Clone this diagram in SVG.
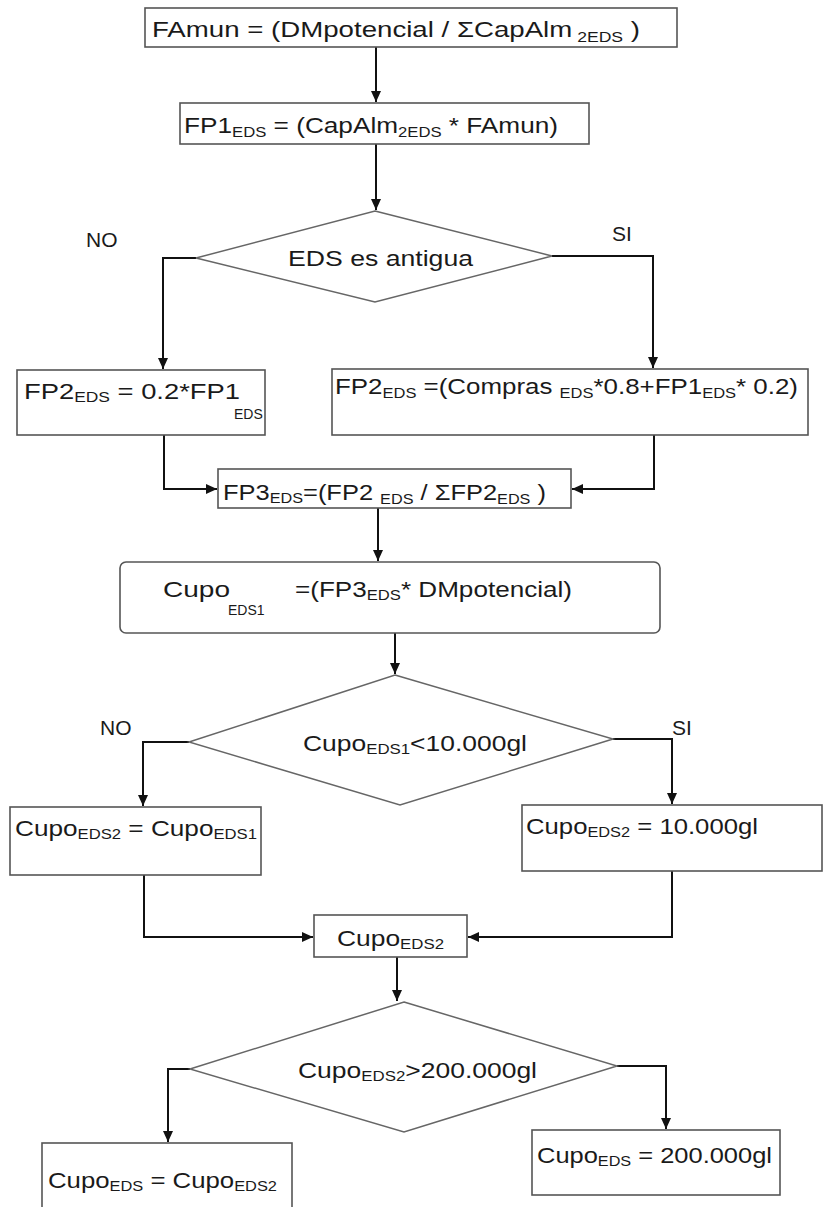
<svg xmlns="http://www.w3.org/2000/svg" width="823" height="1207" viewBox="0 0 823 1207">
<style>
.box{fill:#fff;stroke:#555;stroke-width:1.6}
.dia{fill:#fff;stroke:#666;stroke-width:1.5}
.t{font-family:"Liberation Sans",Arial,sans-serif;font-size:22px;fill:#1a1a1a}
.s{font-size:14px}
.lbl{font-family:"Liberation Sans",Arial,sans-serif;font-size:21px;fill:#1a1a1a}
.c{fill:none;stroke:#111;stroke-width:2}
</style>
<defs>
<marker id="ah" markerUnits="userSpaceOnUse" markerWidth="12" markerHeight="12" refX="11" refY="5" orient="auto">
<path d="M0,0 L11,5 L0,10 z" fill="#111"/>
</marker>
</defs>
<rect width="823" height="1207" fill="#fff"/>

<g id="connectors">
<path class="c" d="M376,47 V102" marker-end="url(#ah)"/>
<path class="c" d="M376,144 V210" marker-end="url(#ah)"/>
<path class="c" d="M196,258 H163 V369" marker-end="url(#ah)"/>
<path class="c" d="M552,256 H653 V368" marker-end="url(#ah)"/>
<path class="c" d="M164,435 V489 H217" marker-end="url(#ah)"/>
<path class="c" d="M654,435 V489 H572" marker-end="url(#ah)"/>
<path class="c" d="M378,508 V561" marker-end="url(#ah)"/>
<path class="c" d="M395,633 V674" marker-end="url(#ah)"/>
<path class="c" d="M189,742 H143 V806" marker-end="url(#ah)"/>
<path class="c" d="M613,739 H672 V804" marker-end="url(#ah)"/>
<path class="c" d="M144,875 V937 H313" marker-end="url(#ah)"/>
<path class="c" d="M672,871 V937 H468" marker-end="url(#ah)"/>
<path class="c" d="M397,957 V1001" marker-end="url(#ah)"/>
<path class="c" d="M190,1069 H168 V1142" marker-end="url(#ah)"/>
<path class="c" d="M617,1066 H666 V1129" marker-end="url(#ah)"/>
</g>

<g id="famun">
<rect class="box" x="145" y="8" width="532" height="39"/>
<text class="t" x="152" y="37" textLength="488" lengthAdjust="spacingAndGlyphs">FAmun = (DMpotencial / ΣCapAlm<tspan class="s" dy="5"> 2EDS</tspan><tspan dy="-5"> )</tspan></text>
</g>

<g id="fp1">
<rect class="box" x="180" y="103" width="409" height="41"/>
<text class="t" x="184" y="133" textLength="374" lengthAdjust="spacingAndGlyphs">FP1<tspan class="s" dy="4">EDS</tspan><tspan dy="-4"> = (CapAlm</tspan><tspan class="s" dy="4">2EDS</tspan><tspan dy="-4"> * FAmun)</tspan></text>
</g>

<g id="dec1">
<polygon class="dia" points="375,211 552,256 375,302 196,258"/>
<text class="t" x="288" y="266" textLength="185" lengthAdjust="spacingAndGlyphs">EDS es antigua</text>
<text class="lbl" x="86" y="247">NO</text>
<text class="lbl" x="612" y="241">SI</text>
</g>

<g id="fp2a">
<rect class="box" x="17" y="370" width="248" height="65"/>
<text class="t" x="24" y="399" textLength="216" lengthAdjust="spacingAndGlyphs">FP2<tspan class="s" dy="3">EDS</tspan><tspan dy="-3"> = 0.2*FP1</tspan></text>
<text class="t s" x="234" y="419">EDS</text>
</g>

<g id="fp2b">
<rect class="box" x="332" y="369" width="476" height="66"/>
<text class="t" x="335" y="394" textLength="463" lengthAdjust="spacingAndGlyphs">FP2<tspan class="s" dy="4">EDS</tspan><tspan dy="-4"> =(Compras </tspan><tspan class="s" dy="4">EDS</tspan><tspan dy="-4">*0.8+FP1</tspan><tspan class="s" dy="4">EDS</tspan><tspan dy="-4">* 0.2)</tspan></text>
</g>

<g id="fp3">
<rect class="box" x="218" y="469" width="353" height="39"/>
<text class="t" x="223" y="500" textLength="323" lengthAdjust="spacingAndGlyphs">FP3<tspan class="s" dy="3">EDS</tspan><tspan dy="-3">=(FP2 </tspan><tspan class="s" dy="4">EDS</tspan><tspan dy="-4"> / ΣFP2</tspan><tspan class="s" dy="4">EDS</tspan><tspan dy="-4"> )</tspan></text>
</g>

<g id="cupo1">
<rect class="box" x="120" y="562" width="540" height="71" rx="6"/>
<text class="t" x="163" y="597" textLength="67" lengthAdjust="spacingAndGlyphs">Cupo</text>
<text class="t s" x="228" y="615">EDS1</text>
<text class="t" x="295" y="597" textLength="277" lengthAdjust="spacingAndGlyphs">=(FP3<tspan class="s" dy="3">EDS</tspan><tspan dy="-3">* DMpotencial)</tspan></text>
</g>

<g id="dec2">
<polygon class="dia" points="395,675 613,739 400,805 189,742"/>
<text class="t" x="303" y="751" textLength="224" lengthAdjust="spacingAndGlyphs">Cupo<tspan class="s" dy="3">EDS1</tspan><tspan dy="-3">&lt;10.000gl</tspan></text>
<text class="lbl" x="100" y="735">NO</text>
<text class="lbl" x="672" y="735">SI</text>
</g>

<g id="cupo2a">
<rect class="box" x="10" y="807" width="251" height="68"/>
<text class="t" x="15" y="836" textLength="242" lengthAdjust="spacingAndGlyphs">Cupo<tspan class="s" dy="3">EDS2</tspan><tspan dy="-3"> = Cupo</tspan><tspan class="s" dy="3">EDS1</tspan></text>
</g>

<g id="cupo2b">
<rect class="box" x="522" y="805" width="300" height="66"/>
<text class="t" x="526" y="834" textLength="232" lengthAdjust="spacingAndGlyphs">Cupo<tspan class="s" dy="3">EDS2</tspan><tspan dy="-3"> = 10.000gl</tspan></text>
</g>

<g id="cupo2">
<rect class="box" x="314" y="915" width="153" height="42"/>
<text class="t" x="337" y="946" textLength="107" lengthAdjust="spacingAndGlyphs">Cupo<tspan class="s" dy="3">EDS2</tspan></text>
</g>

<g id="dec3">
<polygon class="dia" points="404,1002 617,1066 404,1132 190,1069"/>
<text class="t" x="298" y="1078" textLength="239" lengthAdjust="spacingAndGlyphs">Cupo<tspan class="s" dy="3">EDS2</tspan><tspan dy="-3">&gt;200.000gl</tspan></text>
</g>

<g id="cupoa">
<rect class="box" x="42" y="1143" width="250" height="72"/>
<text class="t" x="48" y="1188" textLength="229" lengthAdjust="spacingAndGlyphs">Cupo<tspan class="s" dy="3">EDS</tspan><tspan dy="-3"> = Cupo</tspan><tspan class="s" dy="3">EDS2</tspan></text>
</g>

<g id="cupob">
<rect class="box" x="532" y="1130" width="248" height="65"/>
<text class="t" x="537" y="1163" textLength="235" lengthAdjust="spacingAndGlyphs">Cupo<tspan class="s" dy="3">EDS</tspan><tspan dy="-3"> = 200.000gl</tspan></text>
</g>
</svg>
